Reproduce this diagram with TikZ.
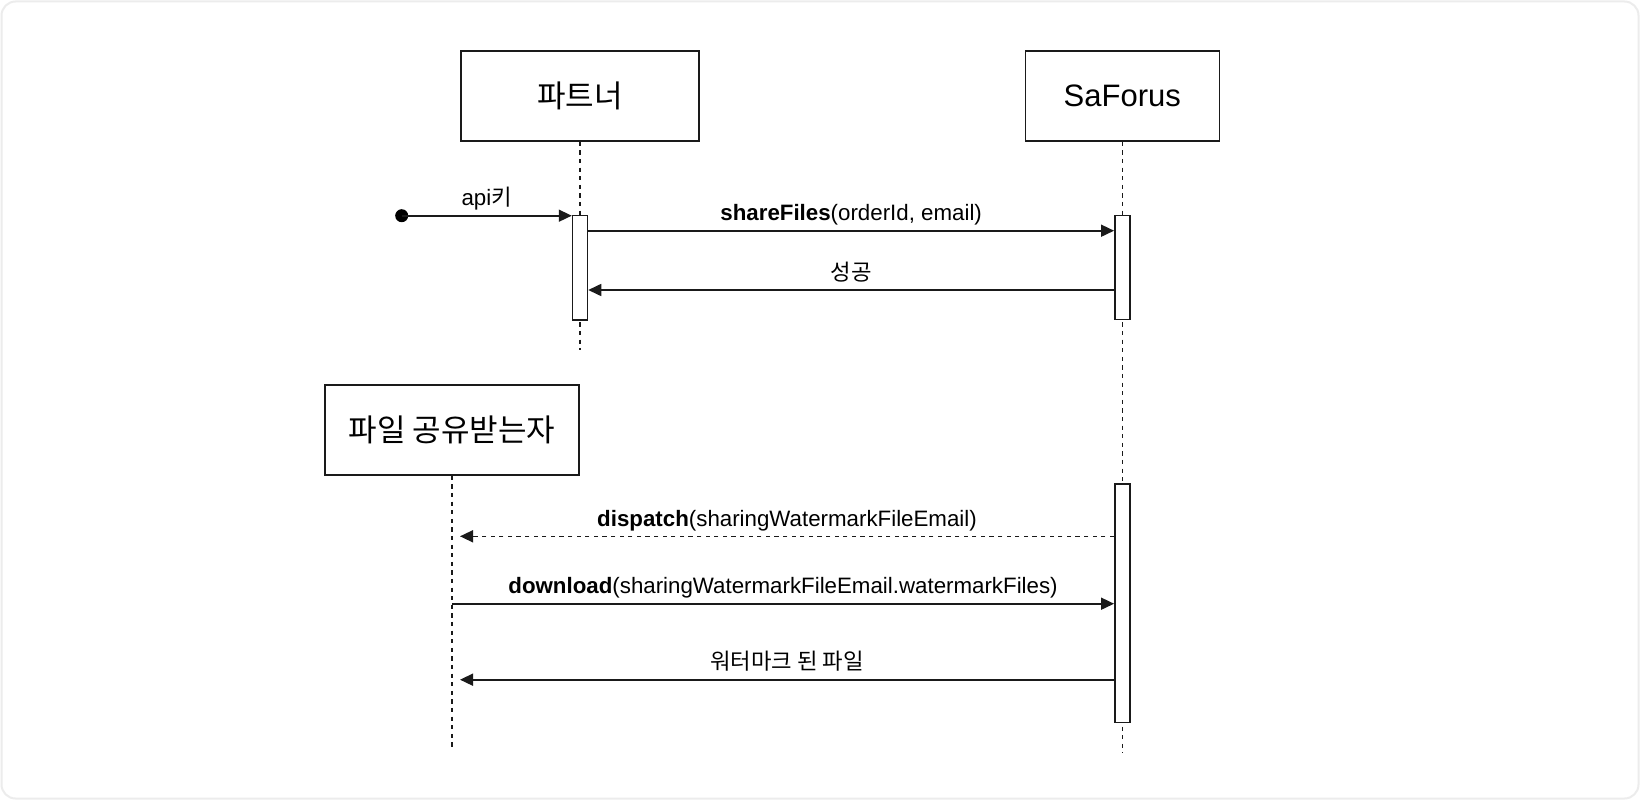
\documentclass[tikz,border=0pt]{standalone}
\usepackage{fontspec}
\setmainfont{Liberation Sans}
\newfontfamily\ko{Noto Sans CJK KR}
\usetikzlibrary{arrows.meta}
\definecolor{framegray}{HTML}{ECECEC}
\definecolor{ink}{HTML}{1A1A1A}
\begin{document}
\begin{tikzpicture}[x=1pt,y=-1pt,
  actor/.style={draw=ink, line width=1.5pt, fill=white, minimum height=90pt, inner sep=0pt, font=\fontsize{31}{37}\selectfont},
  actbar/.style={draw=ink, line width=1.5pt, fill=white, minimum width=15pt, inner sep=0pt},
  lifeline/.style={draw=ink, line width=1.4pt, dash pattern=on 4.3pt off 4.3pt},
  msg/.style={draw=ink, line width=1.6pt, -{Triangle[length=13pt,width=12pt]}},
  dashmsg/.style={msg, dash pattern=on 4.3pt off 4.3pt},
  lbl/.style={font=\fontsize{22.3}{26}\selectfont, inner sep=0pt, anchor=base, yshift=10pt},
]
\useasboundingbox (0,0) rectangle (1640,800);
\draw[framegray, line width=2pt, rounded corners=14pt, fill=white] (1.5,1.5) rectangle (1638.5,798.5);

% actors
\node[actor, minimum width=238pt] (partner) at (580,96) {\ko 파트너};
\node[actor, minimum width=194pt] (saforus) at (1122.3,96) {SaForus};
\node[actor, minimum width=254pt] (recv) at (452,430) {\ko 파일 공유받는자};

% lifeline ends
\coordinate (pEnd) at (580,350);
\coordinate (sEnd) at (1122.3,753);
\coordinate (rEnd) at (452,748);
\draw[lifeline] (partner.south) -- (pEnd);
\draw[lifeline] (saforus.south) -- (sEnd);
\draw[lifeline] (recv.south) -- (rEnd);

% activation bars
\node[actbar, minimum height=104.3pt] (actP) at (580,267.85) {};
\node[actbar, minimum height=104pt] (actS1) at (1122.3,267.3) {};
\node[actbar, minimum height=238.7pt] (actS2) at (1122.3,603.35) {};

% message rows
\coordinate (r1) at (0,230.7);
\coordinate (r2) at (0,290);
\coordinate (r4) at (0,536.3);
\coordinate (r5) at (0,603.7);
\coordinate (r6) at (0,679.7);
\coordinate (rTip) at ([xshift=8pt]recv.south);

% start dot
\node[circle, fill=black, minimum size=13pt, inner sep=0pt] (start) at (401.7,215.7) {};

\draw[msg] (start.center) -- (start.center -| actP.west)
  node[lbl, midway] {api{\ko 키}};
\draw[msg] (actP.east |- r1) -- (actS1.west |- r1)
  node[lbl, midway] {\textbf{shareFiles}(orderId, email)};
\draw[msg] (actS1.west |- r2) -- (actP.east |- r2)
  node[lbl, midway] {\ko 성공};
\draw[dashmsg] (actS2.west |- r4) -- (rTip |- r4)
  node[lbl, midway] {\textbf{dispatch}(sharingWatermarkFileEmail)};
\draw[msg] (recv.south |- r5) -- (actS2.west |- r5)
  node[lbl, midway] {\textbf{download}(sharingWatermarkFileEmail.watermarkFiles)};
\draw[msg] (actS2.west |- r6) -- (rTip |- r6)
  node[lbl, midway] {\ko 워터마크 된 파일};
\end{tikzpicture}
\end{document}
